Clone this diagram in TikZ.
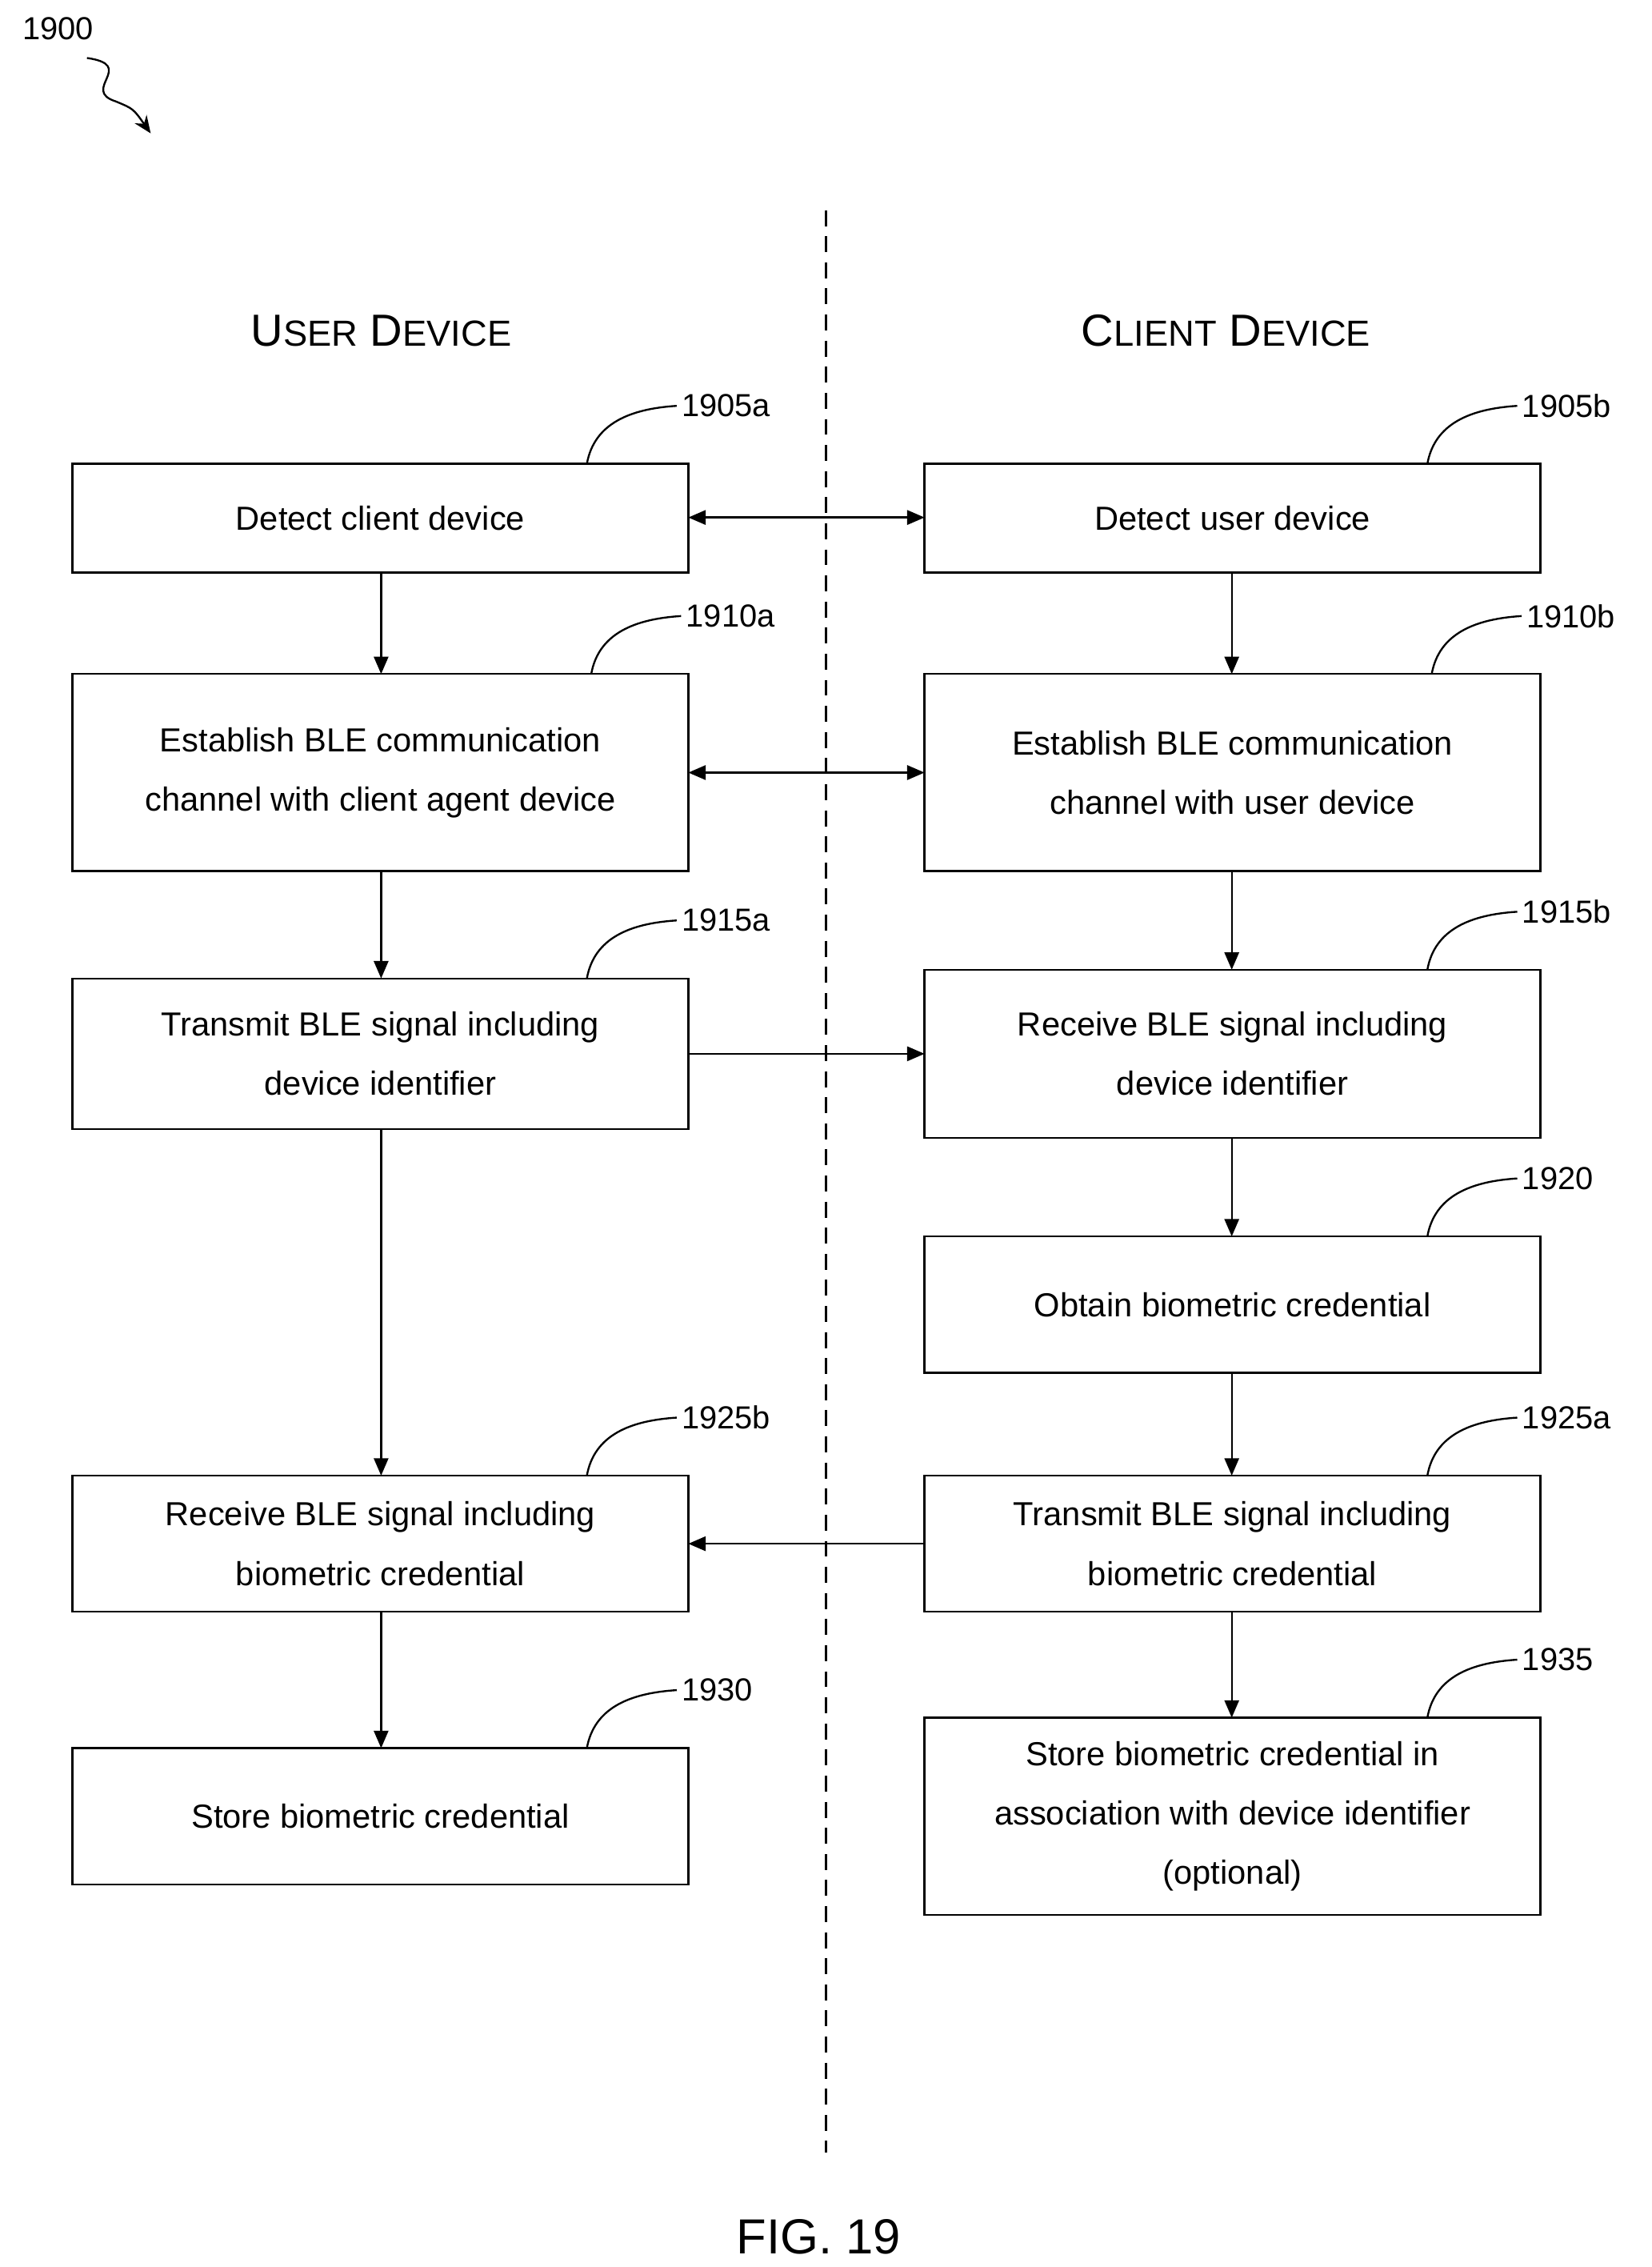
\documentclass[tikz,border=0pt]{standalone}
\usepackage{fontspec}
\setmainfont{Liberation Sans}
\usetikzlibrary{arrows.meta}
\begin{document}
\begin{tikzpicture}[x=1pt,y=-1pt,
 box/.style={draw,line width=1.3pt,align=center,font=\fontsize{23}{41}\selectfont},
 arr/.style={line width=1.3pt,-{Triangle[length=12pt,width=10pt]}},
 darr/.style={line width=1.3pt,{Triangle[length=12pt,width=10pt]}-{Triangle[length=12pt,width=10pt]}},
 lbl/.style={font=\fontsize{22}{24}\selectfont},
 lead/.style={line width=1.3pt}]
\useasboundingbox (0,0) rectangle (1140,1564);
\newcommand{\bx}[6]{\path[box] (#2,#3) rectangle (#4,#5); \node[box,draw=none] (#1) at ({(#2+#4)/2},{(#3+#5)/2}) {#6};
 \coordinate (#1nw) at (#2,#3); \coordinate (#1se) at (#4,#5);}
\draw[line width=1.3pt,dash pattern=on 11pt off 7pt] (570,145) -- (570,1485);
\node[font=\fontsize{31}{34}\selectfont] (h1) at (263,228) {U{\fontsize{25}{30}\selectfont SER} D{\fontsize{25}{30}\selectfont EVICE}};
\node[font=\fontsize{31}{34}\selectfont] (h2) at (846,228) {C{\fontsize{25}{30}\selectfont LIENT} D{\fontsize{25}{30}\selectfont EVICE}};
\node[font=\fontsize{34}{36}\selectfont] (fig) at (565,1543) {FIG. 19};
\node[lbl] (n1900) at (40,20) {1900};
\draw[lead,-{Stealth[length=12pt,width=10pt]}] (60,40) .. controls (95,45) and (55,62) .. (80,70) .. controls (92,75) .. (104,92);
\bx{a1}{50}{320}{475}{395}{Detect client device}
\bx{b1}{638}{320}{1063}{395}{Detect user device}
\bx{a2}{50}{465}{475}{601}{Establish BLE communication\\channel with client agent device}
\bx{b2}{638}{465}{1063}{601}{Establish BLE communication\\channel with user device}
\bx{a3}{50}{675}{475}{779}{Transmit BLE signal including\\device identifier}
\bx{b3}{638}{669}{1063}{785}{Receive BLE signal including\\device identifier}
\bx{b4}{638}{853}{1063}{947}{Obtain biometric credential}
\bx{a5}{50}{1018}{475}{1112}{Receive BLE signal including\\biometric credential}
\bx{b5}{638}{1018}{1063}{1112}{Transmit BLE signal including\\biometric credential}
\bx{a6}{50}{1206}{475}{1300}{Store biometric credential}
\bx{b6}{638}{1185}{1063}{1321}{Store biometric credential in\\association with device identifier\\(optional)}
\draw[darr] (475,357) -- (638,357);
\draw[darr] (475,533) -- (638,533);
\draw[arr] (475,727) -- (638,727);
\draw[arr] (638,1065) -- (475,1065);
\draw[arr] (263,395) -- (263,465);
\draw[arr] (263,601) -- (263,675);
\draw[arr] (263,779) -- (263,1018);
\draw[arr] (263,1112) -- (263,1206);
\draw[arr] (850,395) -- (850,465);
\draw[arr] (850,601) -- (850,669);
\draw[arr] (850,785) -- (850,853);
\draw[arr] (850,947) -- (850,1018);
\draw[arr] (850,1112) -- (850,1185);
\newcommand{\myref}[4]{\node[lbl,anchor=west] (#1) at (#3+62,#4-40) {#2}; \draw[lead] (#3,#4) .. controls (#3+5,#4-28) and (#3+30,#4-38) .. (#3+62,#4-40);}
\myref{r1}{1905a}{405}{320}
\myref{r2}{1905b}{985}{320}
\myref{r3}{1910a}{408}{465}
\myref{r4}{1910b}{988}{465}
\myref{r5}{1915a}{405}{675}
\myref{r6}{1915b}{985}{669}
\myref{r7}{1920}{985}{853}
\myref{r8}{1925b}{405}{1018}
\myref{r9}{1925a}{985}{1018}
\myref{r10}{1930}{405}{1206}
\myref{r11}{1935}{985}{1185}
\end{tikzpicture}
\end{document}
